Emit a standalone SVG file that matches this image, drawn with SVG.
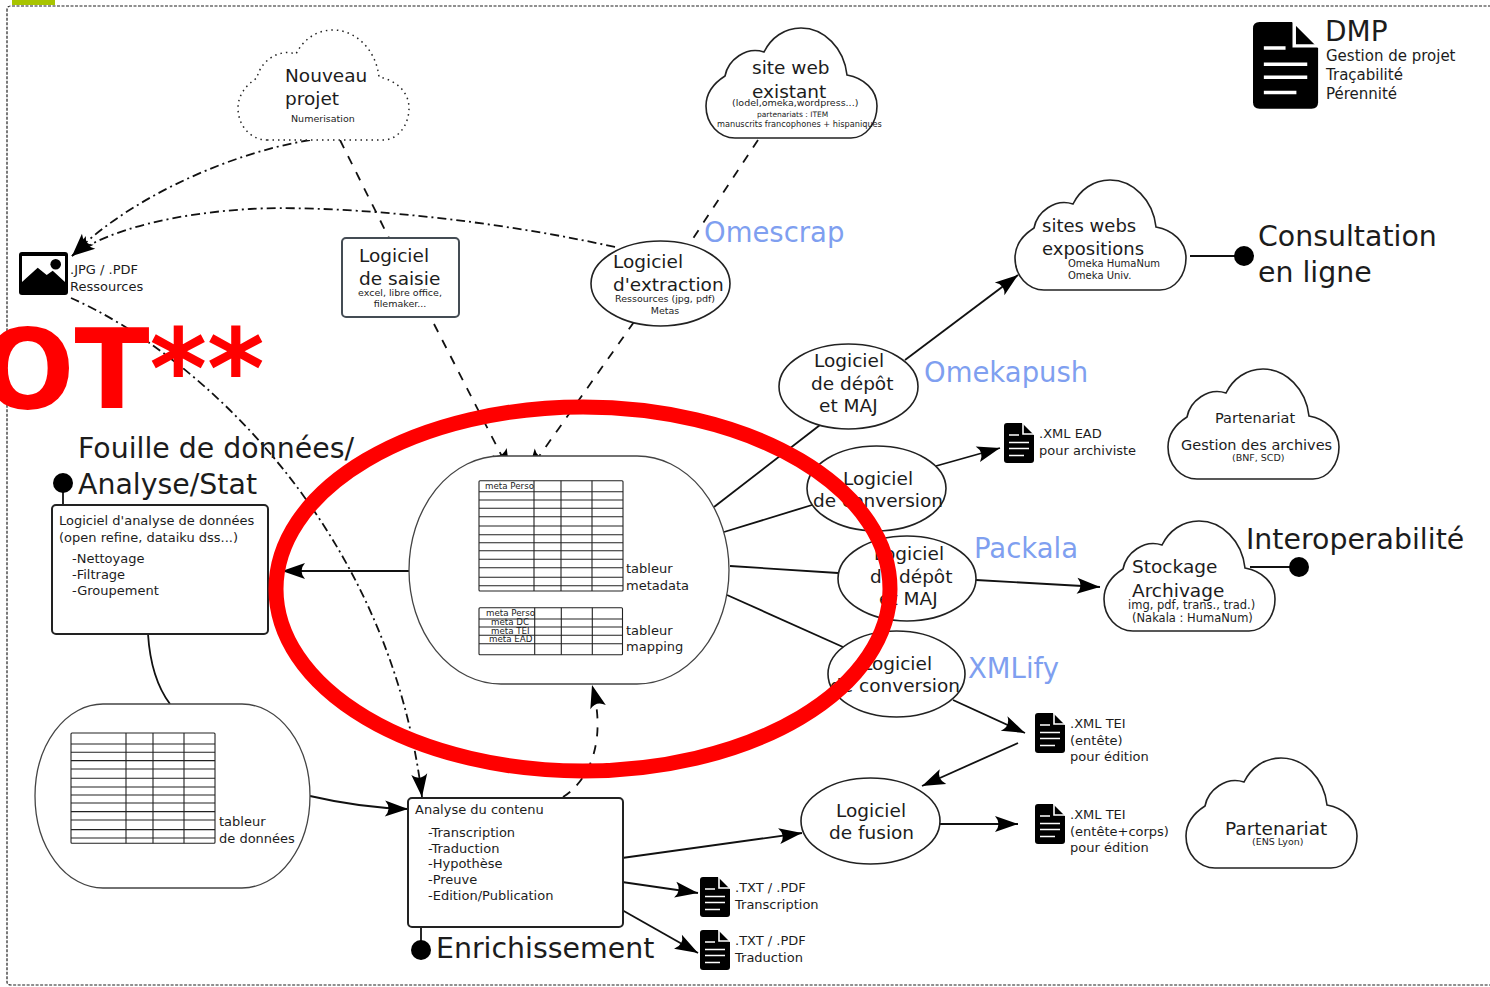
<svg xmlns="http://www.w3.org/2000/svg" xmlns:xlink="http://www.w3.org/1999/xlink" width="1490" height="987" viewBox="0 0 1490 987">
<style>
text{font-family:"DejaVu Sans",sans-serif;fill:#1c1c1c}
.cl,.el,.bl,.rr{fill:#fff;stroke:#222;stroke-width:1.6}
.bl{stroke:#444;stroke-width:1.3}
.rr{stroke:#222;stroke-width:2}
.c{fill:none;stroke:#111;stroke-width:1.8}
.a{marker-end:url(#arr)}
.dd{stroke-dasharray:9 4 2 4}
.d{stroke-dasharray:9 9}
.h{font-size:28.4px}
.m{font-size:18.5px}
.s{font-size:13px}
.x{font-size:9.5px}
.b{font-size:27.5px;fill:#7f9ff0}
.g{fill:none;stroke:#222;stroke-width:1.1}
</style>
<defs>
<marker id="arr" markerUnits="userSpaceOnUse" markerWidth="30" markerHeight="20" viewBox="-25 -10 26 20" refX="0" refY="0" orient="auto"><path d="M0 0L-23 -8Q-16 0 -23 8Z" fill="#000"/></marker>
<path id="cloud" d="M29 110H145C160 110 171 95 171 78C171 62 158 50 141 47C138 20 118 0 95 0C78 0 65 10 58 24C40 18 22 32 19 48C8 55 0 65 0 78C0 96 13 110 29 110Z"/>
<g id="doc"><path d="M3 0H18L30 12V37Q30 40 27 40H3Q0 40 0 37V3Q0 0 3 0Z" fill="#000"/><path d="M19 0V11H30M5 12H15M5 19.5H25M5 25.5H25M5 32.5H20" fill="none" stroke="#fff" stroke-width="1.6"/></g>
<path id="rows" d="M0 11H144M0 19.3H144M0 27.6H144M0 36H144M0 45.3H144M0 54H144M0 62H144M0 70H144M0 78.6H144M0 87H144M0 96.6H144M0 105H144M55 0V110.3M82 0V110.3M113 0V110.3"/>
</defs>
<rect width="1490" height="987" fill="#fff"/>
<path d="M12 0H55V5H12Z" fill="#a8c400"/>
<path d="M1500 6H11Q7 6 7 10V982Q7 985 11 985H1500" fill="none" stroke="#222" stroke-width="1.2" stroke-dasharray="3 1.5"/>

<g id="connectors">
<path class="c dd a" d="M310 140C220 155 120 205 72 256"/>
<path class="c dd a" d="M615 247C470 215 320 205 250 209C180 213 110 228 72 256"/>
<path class="c dd a" stroke-width="1.4" d="M71 298C200 355 390 530 422 797"/>
<path class="c d" d="M340 140L389 238"/>
<path class="c d a" d="M434 324L510 472"/>
<path class="c d a" d="M634 322L528 472"/>
<path class="c d" d="M758 140L690 243"/>
<path class="c d a" stroke-dasharray="5 4" d="M563 797C590 780 607 740 592 685"/>
<path class="c" d="M714 507L820 425"/>
<path class="c a" d="M905 360L1018 275"/>
<path class="c" d="M724 532L812 505"/>
<path class="c" d="M730 566L838 573"/>
<path class="c" d="M727 595L843 647"/>
<path class="c a" d="M936 466L1000 448"/>
<path class="c a" d="M976 580L1100 587"/>
<path class="c a" d="M953 700L1025 733"/>
<path class="c a" d="M1018 743L922 786"/>
<path class="c a" d="M940 824L1018 824"/>
<path class="c a" d="M622 858L802 833"/>
<path class="c a" d="M622 882L698 893"/>
<path class="c a" d="M622 910L698 953"/>
<path class="c a" stroke-width="1.3" d="M409 571H282"/>
<path class="c" d="M148 634C150 665 158 688 170 704"/>
<path class="c a" d="M310 796C340 803 370 808 408 809"/>
<path class="c" d="M1190 256H1244"/><circle cx="1244" cy="256" r="10"/>
<path class="c" d="M63 483V505"/><circle cx="63" cy="483" r="10"/>
<path class="c" d="M421 927V950"/><circle cx="421" cy="950" r="10"/>
<path class="c" d="M1250 567H1299"/><circle cx="1299" cy="567" r="10"/>
</g>

<g id="nouveau"><use href="#cloud" x="238" y="30" fill="#fff" stroke="#222" stroke-width="1.5" stroke-dasharray="1.5 4"/><text class="m" x="285" y="82">Nouveau</text><text class="m" x="285" y="105">projet</text><text class="x" x="291" y="122">Numerisation</text></g>
<g id="siteweb"><use href="#cloud" x="706" y="28" class="cl"/><text class="m" x="752" y="74">site web</text><text class="m" x="752" y="98">existant</text><text style="font-size:9.5px" x="732" y="106">(lodel,omeka,wordpress...)</text><text style="font-size:7.5px" x="757" y="117">partenariats : ITEM</text><text style="font-size:8.2px" x="717" y="127">manuscrits francophones + hispaniques</text></g>
<g id="dmp"><use href="#doc" transform="translate(1253 22) scale(2.17)"/><text x="1325" y="41" style="font-size:28px">DMP</text><text x="1326" y="61" style="font-size:15px">Gestion de projet</text><text x="1326" y="80" style="font-size:15px">Traçabilité</text><text x="1326" y="99" style="font-size:15px">Pérennité</text></g>
<g id="ressources"><path d="M22 252H65Q68 252 68 255V292Q68 295 65 295H22Q19 295 19 292V255Q19 252 22 252Z" fill="#000"/><path d="M22 256H65V282L52.700 270.700L46.700 275L37.700 267.700L22 282Z" fill="#fff"/><circle cx="55.700" cy="264.300" r="5.300"/><text class="s" x="70" y="274">.JPG / .PDF</text><text class="s" x="70" y="291">Ressources</text></g>
<g id="saisie"><rect x="342" y="238" width="117" height="79" rx="4" fill="#fff" stroke="#444c54" stroke-width="2"/><text class="m" x="359" y="262">Logiciel</text><text class="m" x="359" y="285">de saisie</text><text class="x" x="400" y="296" text-anchor="middle">excel, libre office,</text><text class="x" x="400" y="307" text-anchor="middle">filemaker...</text></g>
<g id="extraction"><ellipse class="el" cx="660.500" cy="283.500" rx="69.500" ry="42.500"/><text class="m" x="613" y="268">Logiciel</text><text class="m" x="613" y="291">d'extraction</text><text class="x" x="665" y="302" text-anchor="middle">Ressources (jpg, pdf)</text><text class="x" x="665" y="314" text-anchor="middle">Metas</text></g>
<text class="b" x="704" y="242">Omescrap</text>
<g id="siteswebs"><use href="#cloud" x="1015" y="180" class="cl"/><text x="1042" y="232" style="font-size:18px">sites webs</text><text x="1042" y="255" style="font-size:18px">expositions</text><text x="1068" y="267" style="font-size:10px">Omeka HumaNum</text><text x="1068" y="279" style="font-size:10px">Omeka Univ.</text></g>
<text class="h" x="1258" y="246">Consultation</text><text class="h" x="1258" y="282">en ligne</text>
<g id="depot1"><ellipse class="el" cx="848.500" cy="386.500" rx="69.500" ry="42.500"/><text class="m" x="814" y="367">Logiciel</text><text class="m" x="811" y="390">de dépôt</text><text class="m" x="819" y="412">et MAJ</text></g>
<text class="b" x="924" y="382">Omekapush</text>
<g id="ead"><use href="#doc" x="1004" y="423"/><text class="s" x="1039" y="438">.XML EAD</text><text class="s" x="1039" y="455">pour archiviste</text></g>
<g id="part1"><use href="#cloud" x="1168" y="369" class="cl"/><text x="1215" y="423" style="font-size:14.500px">Partenariat</text><text x="1181" y="450" style="font-size:14.500px">Gestion des archives</text><text x="1232" y="461" style="font-size:9.500px">(BNF, SCD)</text></g>
<g id="conv1"><ellipse class="el" cx="876.500" cy="488.500" rx="69.500" ry="42.500"/><text class="m" x="843" y="485">Logiciel</text><text class="m" x="813" y="507">de conversion</text></g>
<g id="depot2"><ellipse class="el" cx="907" cy="578.500" rx="69" ry="42.500"/><text class="m" x="874" y="560">Logiciel</text><text class="m" x="870" y="583">de dépôt</text><text class="m" x="879" y="605">et MAJ</text></g>
<text class="b" x="974" y="558">Packala</text>
<g id="stockage"><use href="#cloud" x="1104" y="521" class="cl"/><text class="m" x="1132" y="573">Stockage</text><text class="m" x="1132" y="597">Archivage</text><text x="1128" y="609" style="font-size:11.500px">img, pdf, trans., trad.)</text><text x="1132" y="622" style="font-size:11.500px">(Nakala : HumaNum)</text></g>
<text class="h" x="1246" y="549">Interoperabilité</text>
<g id="conv2"><ellipse class="el" cx="896.500" cy="674" rx="68.500" ry="43"/><text class="m" x="862" y="670">Logiciel</text><text class="m" x="830" y="692">de conversion</text></g>
<text class="b" x="968" y="678">XMLify</text>
<g id="tei1"><use href="#doc" x="1035" y="713"/><text class="s" x="1070" y="728">.XML TEI</text><text class="s" x="1070" y="745">(entête)</text><text class="s" x="1070" y="761">pour édition</text></g>
<g id="fusion"><ellipse class="el" cx="870.500" cy="821" rx="69.500" ry="43"/><text class="m" x="836" y="817">Logiciel</text><text class="m" x="829" y="839">de fusion</text></g>
<g id="tei2"><use href="#doc" x="1035" y="804"/><text class="s" x="1070" y="819">.XML TEI</text><text class="s" x="1070" y="836">(entête+corps)</text><text class="s" x="1070" y="852">pour édition</text></g>
<g id="part2"><use href="#cloud" x="1186" y="758" class="cl"/><text x="1225" y="835" style="font-size:18.500px">Partenariat</text><text x="1252" y="845" style="font-size:9.500px">(ENS Lyon)</text></g>
<g id="txt1"><use href="#doc" x="700" y="877"/><text class="s" x="735" y="892">.TXT / .PDF</text><text class="s" x="735" y="909">Transcription</text></g>
<g id="txt2"><use href="#doc" x="700" y="930"/><text class="s" x="735" y="945">.TXT / .PDF</text><text class="s" x="735" y="962">Traduction</text></g>

<g id="fouille"><text class="h" x="78" y="458">Fouille de données/</text><text class="h" x="78" y="494">Analyse/Stat</text></g>
<g id="analysedata"><rect class="rr" x="52" y="505" width="216" height="129" rx="4"/><text class="s" x="59" y="525">Logiciel d'analyse de données</text><text class="s" x="59" y="542">(open refine, dataiku dss...)</text><text class="s" x="72" y="563">-Nettoyage</text><text class="s" x="72" y="579">-Filtrage</text><text class="s" x="72" y="595">-Groupement</text></g>

<g id="tableurs"><rect class="bl" x="409" y="456" width="320" height="228" rx="92" ry="114"/>
<rect class="g" x="479" y="480.700" width="144" height="110.300" rx="1"/><use href="#rows" x="479" y="480.700" class="g"/>
<text x="485" y="488.500" style="font-size:8.700px">meta Perso</text>
<text class="s" x="626" y="573">tableur</text><text class="s" x="626" y="590">metadata</text>
<rect class="g" x="479" y="607.700" width="143.500" height="47" rx="1"/><path class="g" d="M479 619H622.500M479 627H622.500M479 635.300H622.500M479 643.700H622.500M534.700 607.700V654.700M561.300 607.700V654.700M592.300 607.700V654.700"/>
<text x="486" y="616" style="font-size:8.700px">meta Perso</text><text x="491" y="625" style="font-size:8.700px">meta DC</text><text x="491" y="634" style="font-size:8.700px">meta TEI</text><text x="489" y="642" style="font-size:8.700px">meta EAD</text>
<text class="s" x="626" y="635">tableur</text><text class="s" x="626" y="651">mapping</text></g>

<g id="donnees"><rect class="bl" x="35" y="704" width="275" height="184" rx="68" ry="92"/>
<rect class="g" x="71" y="733" width="144" height="110.300" rx="1"/><use href="#rows" x="71" y="733" class="g"/>
<text class="s" x="219" y="826">tableur</text><text class="s" x="219" y="843">de données</text></g>

<g id="analyse"><rect class="rr" x="408" y="798" width="215" height="129" rx="4"/><text class="s" x="415" y="814">Analyse du contenu</text><text class="s" x="428" y="837">-Transcription</text><text class="s" x="428" y="853">-Traduction</text><text class="s" x="428" y="868">-Hypothèse</text><text class="s" x="428" y="884">-Preuve</text><text class="s" x="428" y="900">-Edition/Publication</text></g>
<text class="h" x="436" y="958">Enrichissement</text>

<ellipse cx="583" cy="589" rx="307" ry="182" fill="none" stroke="#f00" stroke-width="15"/>
<text x="-19" y="408" style="font-size:110px;font-weight:bold;fill:#f00">OT**</text>
</svg>
